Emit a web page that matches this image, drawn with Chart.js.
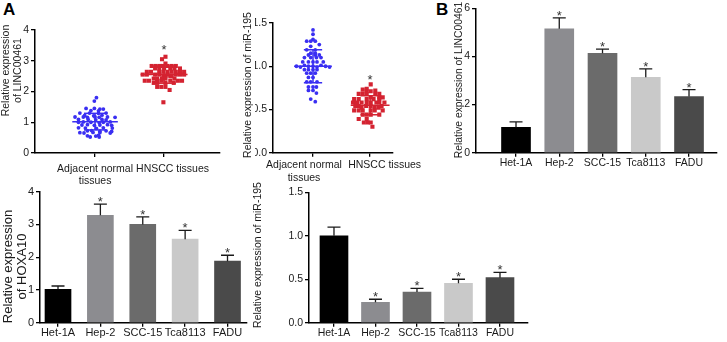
<!DOCTYPE html>
<html>
<head>
<meta charset="utf-8">
<script src="https://cdn.jsdelivr.net/npm/chart.js@4.4.0/dist/chart.umd.min.js"></script>
<style>
  body { margin: 0; background: #fff; }
  #fig { position: relative; width: 727px; height: 342px; overflow: hidden; font-family: "Liberation Sans", Arial, sans-serif; color: #1a1a1a; }
  #fig canvas { position: absolute; }
  .ytitle { position: absolute; transform: rotate(-90deg); white-space: nowrap; text-align: center; }
  .letter { position: absolute; font-weight: bold; font-size: 17px; color: #000; }
</style>
</head>
<body>
<div id="fig">
  <div class="letter" style="left:3px;top:0px;">A</div>
  <div class="letter" style="left:436px;top:0px;">B</div>
  <canvas id="c-linc-tissue" width="212" height="192" style="left:20px;top:0px;"></canvas>
  <canvas id="c-mir-tissue" width="170" height="192" style="left:255px;top:0px;"></canvas>
  <canvas id="c-linc-cells" width="282" height="180" style="left:445px;top:0px;"></canvas>
  <canvas id="c-hoxa-cells" width="232" height="160" style="left:20px;top:182px;"></canvas>
  <canvas id="c-mir-cells" width="275" height="160" style="left:262px;top:182px;"></canvas>
</div>
<script>
// groups and cell lines
const tissueGroups = [['Adjacent normal', 'tissues'], ['HNSCC tissues']];
const cellLines = ['Het-1A', 'Hep-2', 'SCC-15', 'Tca8113', 'FADU'];
const barColors = ['#000000', '#8c8c90', '#6b6b6b', '#c9c9c9', '#4a4a4a'];

// LINC00461 in tissues (value + horizontal spread of each dot)
const lincNormal = [1.80, 1.69, 1.45, 1.45, 1.43, 1.43, 1.38, 1.37, 1.30, 1.30, 1.29, 1.30,
  1.22, 1.23, 1.21, 1.17, 1.17, 1.16, 1.17, 1.16, 1.17, 1.16, 1.09, 1.09, 1.08, 1.09, 1.08,
  1.00, 1.01, 1.00, 0.99, 1.00, 1.01, 0.91, 0.92, 0.90, 0.91, 0.92, 0.90, 0.82, 0.81, 0.80,
  0.82, 0.81, 0.72, 0.73, 0.71, 0.72, 0.70, 0.66, 0.65, 0.67, 0.66, 0.65, 0.56, 0.55, 0.57,
  0.52, 0.52];
const lincNormalJit = [0.02, -0.01, -0.13, -0.01, 0.07, 0.12, -0.06, 0.05, -0.22, -0.08, 0.05, 0.16,
  -0.15, 0.10, -0.02, -0.29, -0.17, -0.11, 0.00, 0.06, 0.18, 0.29, -0.24, -0.10, 0.01, 0.10, 0.16,
  -0.24, -0.17, -0.06, 0.06, 0.12, 0.22, -0.19, -0.11, -0.01, 0.07, 0.18, 0.24, -0.24, -0.14, 0.02,
  0.12, 0.25, -0.11, -0.05, 0.07, 0.16, 0.24, -0.22, -0.16, -0.03, 0.07, 0.22, -0.11, 0.01, 0.05,
  -0.07, 0.06];
const lincTumor = [3.13, 3.05, 2.91, 2.83, 2.83, 2.83, 2.83, 2.83, 2.83, 2.83, 2.75, 2.75, 2.75,
  2.75, 2.75, 2.75, 2.64, 2.64, 2.64, 2.64, 2.64, 2.64, 2.64, 2.64, 2.64, 2.55, 2.55, 2.55, 2.55,
  2.55, 2.55, 2.55, 2.55, 2.50, 2.50, 2.50, 2.50, 2.42, 2.42, 2.42, 2.42, 2.42, 2.35, 2.35, 2.35,
  2.35, 2.35, 2.35, 2.35, 2.28, 2.28, 2.28, 2.28, 2.15, 2.15, 2.15, 2.05, 1.65];
const lincTumorJit = [0.02, -0.03, 0.02, -0.18, -0.12, -0.06, -0.01, 0.05, 0.11, 0.17, -0.13, -0.07, 0.00,
  0.09, 0.15, 0.23, -0.25, -0.19, -0.07, -0.01, 0.05, 0.11, 0.17, 0.23, 0.29, -0.31, -0.25, -0.13, -0.07,
  0.05, 0.17, 0.23, 0.29, -0.01, 0.02, 0.09, 0.11, -0.15, -0.10, -0.03, 0.02, 0.15, -0.28, -0.22, -0.10,
  -0.04, 0.09, 0.20, 0.26, -0.15, -0.10, 0.02, 0.14, -0.10, -0.04, 0.02, 0.08, -0.01];
const lincMean = [1.02, 2.55];
const lincSd = [0.27, 0.28];
const lincStar = [null, 3.45];

// miR-195 in tissues
const mirNormal = [1.42, 1.37, 1.31, 1.29, 1.29, 1.29, 1.25, 1.23, 1.19, 1.19, 1.15, 1.15, 1.13, 1.13,
  1.13, 1.10, 1.10, 1.10, 1.10, 1.05, 1.05, 1.05, 1.05, 1.05, 1.00, 0.99, 1.01, 1.00, 1.00, 0.99,
  1.01, 1.00, 0.99, 0.96, 0.96, 0.96, 0.96, 0.92, 0.92, 0.92, 0.87, 0.87, 0.82, 0.82, 0.82, 0.76,
  0.76, 0.76, 0.72, 0.72, 0.69, 0.62, 0.59];
const mirNormalJit = [0.00, 0.00, 0.00, -0.11, -0.04, 0.04, 0.11, -0.04, -0.11, 0.04, -0.04, 0.04, -0.08, 0.04,
  0.11, -0.15, -0.04, 0.06, 0.14, -0.18, -0.08, 0.00, 0.07, 0.18, -0.29, -0.22, -0.15, -0.08, 0.00, 0.07,
  0.14, 0.22, 0.29, -0.15, -0.08, 0.00, 0.07, -0.11, -0.04, 0.04, -0.08, 0.00, -0.11, -0.04, 0.07, -0.08,
  0.00, 0.06, -0.08, 0.00, 0.06, -0.04, 0.04];
const mirTumor = [0.79, 0.74, 0.73, 0.72, 0.71, 0.71, 0.68, 0.68, 0.68, 0.68, 0.68, 0.64, 0.64, 0.64,
  0.62, 0.62, 0.62, 0.62, 0.62, 0.58, 0.58, 0.58, 0.58, 0.58, 0.58, 0.58, 0.58, 0.54, 0.54, 0.54,
  0.54, 0.54, 0.52, 0.52, 0.52, 0.49, 0.49, 0.49, 0.49, 0.49, 0.49, 0.44, 0.44, 0.44, 0.44, 0.39,
  0.39, 0.35, 0.35, 0.35, 0.30];
const mirTumorJit = [0.01, -0.06, -0.13, 0.09, -0.06, 0.01, -0.20, -0.13, -0.06, 0.09, 0.16, 0.01, 0.16, 0.22,
  -0.28, -0.20, -0.06, 0.06, 0.16, -0.30, -0.23, -0.15, -0.06, 0.01, 0.11, 0.16, 0.25, -0.26, -0.20, -0.07,
  0.01, 0.20, -0.15, 0.08, 0.15, -0.28, -0.20, -0.13, 0.01, 0.08, 0.22, -0.13, -0.06, 0.01, 0.16, -0.20,
  -0.06, 0.01, -0.11, -0.04, 0.04];
const mirMean = [1.00, 0.55];
const mirSd = [0.19, 0.11];
const mirStar = [null, 0.87];

// cell lines (mean, upper error bar)
const lincCells = [1.05, 5.15, 4.13, 3.13, 2.33];
const lincCellsErr = [0.23, 0.45, 0.17, 0.35, 0.29];
const hoxaCells = [1.02, 3.28, 3.00, 2.55, 1.88];
const hoxaCellsErr = [0.10, 0.34, 0.23, 0.27, 0.18];
const mirCells = [1.00, 0.235, 0.353, 0.453, 0.518];
const mirCellsErr = [0.10, 0.035, 0.042, 0.047, 0.062];
const cellStars = [false, true, true, true, true];

const FONT = '"Liberation Sans", Arial, sans-serif';
Chart.defaults.font.family = FONT;
Chart.defaults.color = '#1a1a1a';

const blue = '#3a2ff2';
const red = '#d42331';

// draws error bars, significance stars and the x labels
const marksPlugin = {
  id: 'marks',
  afterDatasetsDraw(chart, args, opts) {
    const ctx = chart.ctx;
    const xs = chart.scales.x;
    const ys = chart.scales.y;
    ctx.save();
    if (opts.values) {
      ctx.strokeStyle = '#1a1a1a';
      ctx.lineWidth = 1.3;
      opts.values.forEach((v, i) => {
        const cx = xs.getPixelForValue(i + 1);
        const y0 = ys.getPixelForValue(v);
        const y1 = ys.getPixelForValue(v + opts.errors[i]);
        ctx.beginPath();
        ctx.moveTo(cx, y0);
        ctx.lineTo(cx, y1);
        ctx.moveTo(cx - opts.cap, y1);
        ctx.lineTo(cx + opts.cap, y1);
        ctx.stroke();
      });
    }
    ctx.fillStyle = '#333';
    ctx.font = '13px ' + FONT;
    ctx.textAlign = 'center';
    ctx.textBaseline = 'alphabetic';
    if (opts.stars && opts.values) {
      opts.stars.forEach((s, i) => {
        if (!s) return;
        const y1 = ys.getPixelForValue(opts.values[i] + opts.errors[i]);
        ctx.fillText('*', xs.getPixelForValue(i + 1), y1 + 2);
      });
    }
    if (opts.starAt) {
      opts.starAt.forEach((v, i) => {
        if (v === null) return;
        ctx.fillText('*', xs.getPixelForValue(i + 1), ys.getPixelForValue(v) + 7);
      });
    }
    if (opts.labels) {
      ctx.fillStyle = '#1a1a1a';
      ctx.font = opts.size + 'px ' + FONT;
      ctx.textBaseline = 'middle';
      opts.labels.forEach((lines, i) => {
        const cx = xs.getPixelForValue(i + 1) + (opts.shift ? opts.shift[i] : 0);
        [].concat(lines).forEach((t, k) => ctx.fillText(t, cx, xs.top + opts.gap + k * opts.lh));
      });
    }
    ctx.restore();
  }
};

function yTitle(lines, cx, cy, size, lh) {
  const d = document.createElement('div');
  d.className = 'ytitle';
  d.style.fontSize = size + 'px';
  d.style.lineHeight = lh + 'px';
  d.style.width = '220px';
  d.style.height = (lines.length * lh) + 'px';
  d.style.left = (cx - 110) + 'px';
  d.style.top = (cy - lines.length * lh / 2) + 'px';
  d.innerHTML = lines.join('<br>');
  document.getElementById('fig').appendChild(d);
}

function axes(box, yMax, yStep, xMin, xMax, count, tickSize, yFmt) {
  return {
    x: {
      type: 'linear',
      min: xMin,
      max: xMax,
      offset: false,
      afterBuildTicks: (s) => {
        s.ticks = [];
        for (let i = 1; i <= count; i++) s.ticks.push({ value: i });
      },
      afterFit: (s) => { s.height = box.xh; },
      ticks: { display: false },
      grid: { drawOnChartArea: false, offset: false, tickLength: 4, color: '#000', lineWidth: 1.3 },
      border: { color: '#000', width: 1.5 },
    },
    y: {
      min: 0,
      max: yMax,
      afterFit: (s) => { s.width = box.yw; },
      ticks: {
        stepSize: yStep,
        font: { size: tickSize },
        padding: 2,
        callback: yFmt || ((v) => v),
      },
      grid: { drawOnChartArea: false, tickLength: 4, color: '#000', lineWidth: 1.3 },
      border: { color: '#000', width: 1.5 },
    },
  };
}

function dotSets(vals, jit, center, color, style, radius) {
  return {
    data: vals.map((v, i) => ({ x: center + jit[i], y: v })),
    pointStyle: style,
    pointRadius: radius,
    backgroundColor: color,
    borderWidth: 0,
    order: 1,
  };
}

function meanSdLines(center, mean, sd, halfMean, halfCap, color) {
  const seg = (pts) => ({
    type: 'line', data: pts, borderColor: color, borderWidth: 1.5,
    pointRadius: 0, showLine: true, order: 0,
  });
  return [
    seg([{ x: center - halfMean, y: mean }, { x: center + halfMean, y: mean }]),
    seg([{ x: center, y: mean - sd }, { x: center, y: mean + sd }]),
    seg([{ x: center - halfCap, y: mean + sd }, { x: center + halfCap, y: mean + sd }]),
    seg([{ x: center - halfCap, y: mean - sd }, { x: center + halfCap, y: mean - sd }]),
  ];
}

function scatterChart(id, box, normal, normalJit, tumor, tumorJit, mean, sd, star, yMax, yStep, xMin, xMax, yFmt) {
  new Chart(document.getElementById(id), {
    type: 'scatter',
    data: {
      datasets: [
        ...meanSdLines(1, mean[0], sd[0], 0.33, 0.16, blue),
        ...meanSdLines(2, mean[1], sd[1], 0.34, 0.17, red),
        dotSets(normal, normalJit, 1, blue, 'circle', 1.9),
        dotSets(tumor, tumorJit, 2, red, 'rect', 2.9),
      ],
    },
    options: {
      responsive: false,
      animation: false,
      events: [],
      layout: { padding: { top: box.top, right: box.right, left: 0, bottom: 0 } },
      plugins: {
        legend: { display: false },
        tooltip: { enabled: false },
        marks: { starAt: star, labels: tissueGroups, shift: box.shift, gap: box.gap, lh: 12.5, size: 10.5 },
      },
      scales: axes(box, yMax, yStep, xMin, xMax, tissueGroups.length, 10.5, yFmt),
    },
    plugins: [marksPlugin],
  });
}

function barChart(id, box, values, errors, yMax, yStep, xMin, xMax, thick, tickSize, yFmt) {
  new Chart(document.getElementById(id), {
    type: 'bar',
    data: {
      datasets: [{
        data: values.map((v, i) => ({ x: i + 1, y: v })),
        backgroundColor: barColors,
        barThickness: thick,
      }],
    },
    options: {
      responsive: false,
      animation: false,
      events: [],
      layout: { padding: { top: box.top, right: box.right, left: 0, bottom: 0 } },
      plugins: {
        legend: { display: false },
        tooltip: { enabled: false },
        marks: {
          values: values, errors: errors, stars: cellStars, cap: 6.5,
          labels: cellLines, gap: 10.5, lh: 12, size: tickSize,
        },
      },
      scales: axes(box, yMax, yStep, xMin, xMax, cellLines.length, tickSize, yFmt),
    },
    plugins: [marksPlugin],
  });
}

const oneDec = (v) => v.toFixed(1);

scatterChart('c-linc-tissue', { top: 30, right: 12, yw: 15, xh: 39, shift: [0, 8.5], gap: 16 },
  lincNormal, lincNormalJit, lincTumor, lincTumorJit, lincMean, lincSd, lincStar, 4, 1, 0.13, 2.81);
scatterChart('c-mir-tissue', { top: 23, right: 32, yw: 18, xh: 39.3, shift: [-9, 14.5], gap: 12.5 },
  mirNormal, mirNormalJit, mirTumor, mirTumorJit, mirMean, mirSd, mirStar, 1.5, 0.5, 0.30, 2.40, oneDec);
barChart('c-linc-cells', { top: 7, right: 10, yw: 31, xh: 27.3 },
  lincCells, lincCellsErr, 6, 2, 0.075, 5.647, 29, 10.5);
barChart('c-hoxa-cells', { top: 9.7, right: 5, yw: 20, xh: 19.3 },
  hoxaCells, hoxaCellsErr, 4, 1, 0.575, 5.46, 26, 11);
barChart('c-mir-cells', { top: 10.3, right: 9, yw: 47, xh: 19.3 },
  mirCells, mirCellsErr, 1.5, 0.5, 0.398, 5.675, 28, 10.5, oneDec);

yTitle(['Relative expression', 'of LINC00461'], 11, 70, 10.5, 11.5);
yTitle(['Relative expression of miR-195'], 247, 85, 10.5, 12);
yTitle(['Relative expression of LINC00461'], 459, 80, 10.3, 12);
yTitle(['Relative expression', 'of HOXA10'], 14, 266, 13, 13.5);
yTitle(['Relative expression of miR-195'], 257, 255, 10.5, 12);
</script>
</body>
</html>
